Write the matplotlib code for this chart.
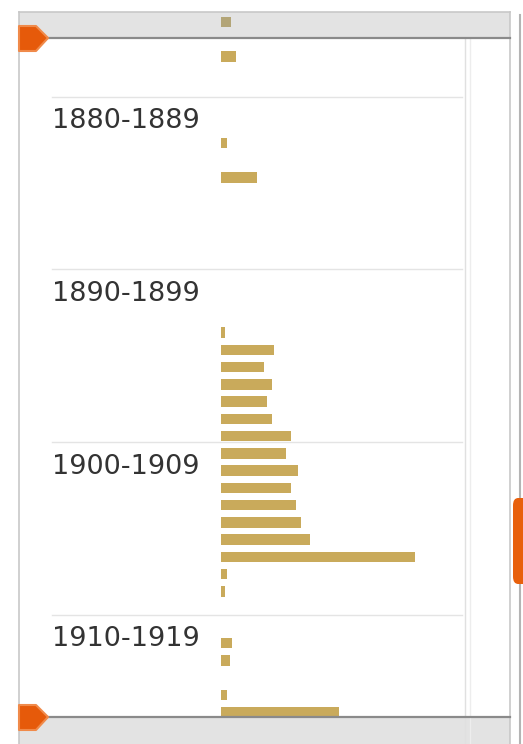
import matplotlib
matplotlib.use("Agg")
import matplotlib.pyplot as plt
from matplotlib.patches import Rectangle, Polygon, FancyBboxPatch

# ---- data ----
years = [1875, 1877, 1882, 1884, 1893, 1894, 1895, 1896, 1897, 1898, 1899,
         1900, 1901, 1902, 1903, 1904, 1905, 1906, 1907, 1908,
         1911, 1912, 1914, 1915]
counts = [2.3, 3.4, 1.4, 8.2, 0.9, 12.0, 9.8, 11.6, 10.5, 11.6, 15.9,
          14.8, 17.5, 15.9, 17.0, 18.2, 20.2, 44.1, 1.4, 0.9,
          2.5, 2.0, 1.4, 26.8]
decade_starts = [1880, 1890, 1900, 1910]
decade_labels = ["1880-1889", "1890-1899", "1900-1909", "1910-1919"]
selection = (1876.6, 1915.9)

W, H = 523, 744
fig = plt.figure(figsize=(W / 100, H / 100), dpi=100)
fig.patch.set_facecolor("white")
ax = fig.add_axes([0, 0, 1, 1])
ax.set_axis_off()

# scales: year -> pixel rows, value -> pixel columns
y0_px, px_per_year = 97.0, 17.25
x0_px, px_per_unit = 221.0, 4.4
bar_offset = 0.66
ax.set_ylim(1880 + (H - y0_px) / px_per_year, 1880 - y0_px / px_per_year)
ax.set_xlim(-x0_px / px_per_unit, (W - x0_px) / px_per_unit)


def P(x, y):
    return (x / W, 1 - y / H)


T = ax.transAxes
band_col = "#e3e3e3"

# outer frame and bands (under bars)
ax.add_patch(Rectangle(P(19, 38), (510 - 19) / W, 26 / H, transform=T,
                       facecolor=band_col, edgecolor="none", zorder=0))
ax.add_patch(Rectangle(P(19, 744), (510 - 19) / W, 27 / H, transform=T,
                       facecolor=band_col, edgecolor="none", zorder=0))
ax.plot([19 / W, 19 / W], [1 - 12 / H, 0], transform=T, color="#c8c8c8", lw=1.2, zorder=1)
ax.plot([510 / W, 510 / W], [1 - 12 / H, 0], transform=T, color="#c8c8c8", lw=1.2, zorder=1)
ax.plot([19 / W, 510 / W], [1 - 12 / H, 1 - 12 / H], transform=T, color="#c8c8c8", lw=1.2, zorder=1)
ax.plot([465 / W, 465 / W], [1 - 38 / H, 0], transform=T, color="#e0e0e0", lw=1.0, zorder=1)
ax.plot([470 / W, 470 / W], [1 - 38 / H, 0], transform=T, color="#ededed", lw=1.0, zorder=1)
ax.plot([520 / W, 520 / W], [1 - 15 / H, 0], transform=T, color="#b4b4b4", lw=1.5, zorder=1)

# decade separators and labels
for ds, lab in zip(decade_starts, decade_labels):
    ax.axhline(ds, xmin=52 / W, xmax=462 / W, color="#e4e4e4", lw=1.0, zorder=1)
    ax.text(52 / W, ds + 24.5 / px_per_year, lab, transform=ax.get_yaxis_transform(),
            ha="left", va="center", fontsize=19.5, color="#333333",
            family="DejaVu Sans", zorder=3)

# bars (muted outside the selected window)
colors = ["#c9aa5b" if selection[0] <= y <= selection[1] else "#b3a577" for y in years]
ax.barh([y + bar_offset for y in years], counts, height=0.61, left=0,
        color=colors, edgecolor="none", zorder=2)

# dark band edges
ax.plot([48 / W, 510 / W], [1 - 38 / H, 1 - 38 / H], transform=T, color="#8a8a8a", lw=1.6, zorder=5)
ax.plot([48 / W, 510 / W], [1 - 717 / H, 1 - 717 / H], transform=T, color="#8a8a8a", lw=1.6, zorder=5)

# orange handles
for cy in (38, 717):
    pts = [P(19, cy - 12), P(36, cy - 12), P(48, cy), P(36, cy + 13), P(19, cy + 13)]
    ax.add_patch(Polygon(pts, closed=True, transform=T, facecolor="#e65a0a",
                         edgecolor="#f08a4a", lw=1.5, joinstyle="round", zorder=6))

# right scroll thumb
ax.add_patch(FancyBboxPatch(P(513, 584), 16 / W, 86 / H, transform=T,
                            boxstyle="round,pad=0,rounding_size=0.01",
                            facecolor="#e8600c", edgecolor="none", zorder=6))

fig.savefig("out.png", dpi=100, facecolor="white")
